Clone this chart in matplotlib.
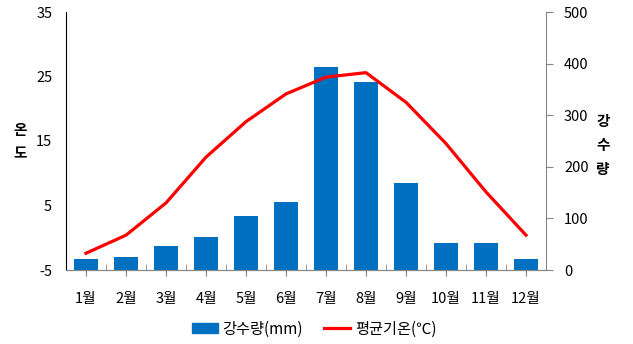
import numpy as np
import matplotlib.pyplot as plt
from matplotlib.patches import Patch
from matplotlib.lines import Line2D

plt.rcParams['font.family'] = ['Noto Sans CJK KR', 'DejaVu Sans']
plt.rcParams['axes.unicode_minus'] = False

# monthly climate data
months = ['1월', '2월', '3월', '4월', '5월', '6월', '7월', '8월', '9월', '10월', '11월', '12월']
rain = [21, 25, 47, 64, 105, 132, 393, 364, 168, 52, 52, 21]
temp = [-2.4, 0.4, 5.4, 12.5, 18.0, 22.3, 24.9, 25.6, 21.0, 14.6, 7.1, 0.4]

BAR_COLOR = '#0070C0'
LINE_COLOR = '#FF0000'
GRAY = '#868686'
FS = 10.5

W, H = 633, 344
fig = plt.figure(figsize=(W / 100, H / 100), dpi=100)
ax = fig.add_axes([66 / W, 1 - 270 / H, 480 / W, 258 / H])
ax2 = ax.twinx()

x = np.arange(len(months))

# rainfall bars on the right axis, temperature line on the left
ax2.bar(x, rain, width=0.58, color=BAR_COLOR, zorder=1)
ax2.set_ylim(0, 500)
ax2.set_yticks(range(0, 501, 100))

ax.plot(x, temp, color=LINE_COLOR, lw=2.3, zorder=5)
ax.set_ylim(-5, 35)
ax.set_yticks([-5, 5, 15, 25, 35])
ax.set_xlim(-0.5, 11.5)

# temperature line drawn above the bars
ax.set_zorder(ax2.get_zorder() + 1)
ax.patch.set_visible(False)

ax.set_xticks(x)
ax.set_xticklabels(months)
ax.set_xticks(np.arange(-0.5, 12, 1), minor=True)
ax.tick_params(axis='x', which='major', direction='out', length=4, color=GRAY,
               labelsize=FS, pad=12)
ax.tick_params(axis='x', which='minor', direction='in', length=4, color=GRAY)
ax.tick_params(axis='y', length=0, labelsize=FS, pad=10)
ax2.tick_params(axis='y', direction='out', length=5, color=GRAY, labelsize=FS, pad=8)

for a in (ax, ax2):
    a.spines['top'].set_visible(False)
    a.spines['bottom'].set_color(GRAY)
    a.spines['right'].set_color(GRAY)
    a.spines['left'].set_color('black')
ax.spines['right'].set_visible(False)
ax2.spines['left'].set_visible(False)

# axis titles written one syllable per line
for ch, yy in zip('온도', [130, 153]):
    fig.text(20 / W, 1 - yy / H, ch, ha='center', va='center', rotation=0,
             fontsize=FS, fontweight='bold')
for ch, yy in zip('강수량', [121, 145, 169]):
    fig.text(603 / W, 1 - yy / H, ch, ha='center', va='center', rotation=0,
             fontsize=FS, fontweight='bold')

handles = [Patch(color=BAR_COLOR), Line2D([0], [0], color=LINE_COLOR, lw=2.3)]
fig.legend(handles, ['강수량(mm)', '평균기온(℃)'], loc='center',
           bbox_to_anchor=(314 / W, 1 - 329 / H), ncol=2, frameon=False,
           fontsize=11, handlelength=1.7, handleheight=0.55, handletextpad=0.3,
           columnspacing=1.4)

fig.savefig('out.png', dpi=100)
